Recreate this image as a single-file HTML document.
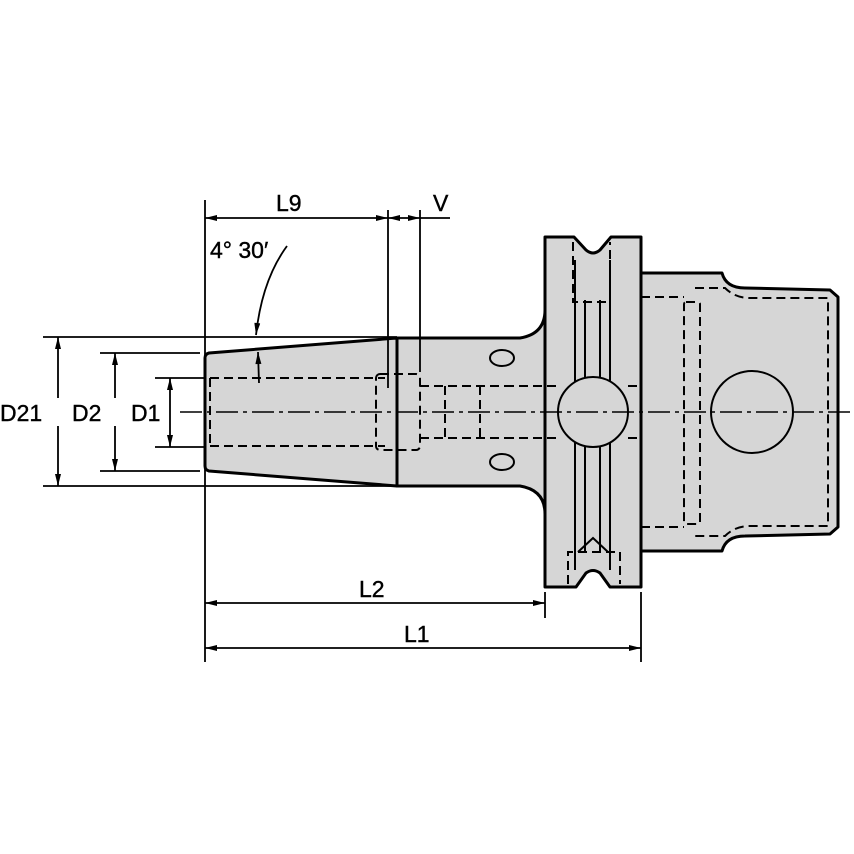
<!DOCTYPE html>
<html><head><meta charset="utf-8"><style>
html,body{margin:0;padding:0;background:#fff}
svg{display:block}
text{font-family:"Liberation Sans",sans-serif;font-size:23px;fill:#000;stroke:#000;stroke-width:0.4}
</style></head><body>
<svg width="854" height="854" viewBox="0 0 854 854" xmlns="http://www.w3.org/2000/svg">
<defs>
<marker id="a" viewBox="0 0 12 6" refX="12" refY="3" markerWidth="13" markerHeight="6" markerUnits="userSpaceOnUse" orient="auto-start-reverse">
<path d="M0,0 L12,3 L0,6 Z" fill="#000"/></marker>
</defs>
<g fill="#d6d6d6" stroke="#000" stroke-width="3" stroke-linejoin="round">
<path d="M209,353 L397,338 L397,486 L209,471 Q205,470 205,466 L205,358 Q205,354 209,353 Z"/>
<path d="M397,338 L520,338 Q545,334 545,310 L545,514 Q545,490 520,486 L397,486 Z"/>
<path d="M641,273 L722,273 Q726,288 745,288 L830,290 L838,297 L838,527 L830,534 L745,536 Q726,536 722,551 L641,551 Z"/>
<path d="M545,237 L574,237 L586,250 Q593,256 600,250 L611,237 L641,237 L641,587 L610,587 L600,573 Q593,568 586,573 L576,587 L545,587 Z"/>
</g>
<g fill="none" stroke="#000" stroke-width="2">
<line x1="575" y1="260" x2="575" y2="570"/>
<line x1="585" y1="300" x2="585" y2="380"/>
<line x1="600" y1="300" x2="600" y2="380"/>
<line x1="585" y1="444" x2="585" y2="552"/>
<line x1="600" y1="444" x2="600" y2="552"/>
<line x1="610" y1="260" x2="610" y2="570"/>
<path d="M578,552 L593,538 L608,552"/>
<circle cx="593" cy="412" r="35" fill="#d6d6d6"/>
<circle cx="752" cy="412" r="41"/>
<ellipse cx="502" cy="358" rx="12" ry="8"/>
<ellipse cx="502" cy="462" rx="12" ry="8"/>
</g>
<g fill="none" stroke="#000" stroke-width="2" stroke-dasharray="9,5">
<path d="M210,378 L385,378 M210,446 L385,446 M210,378 L210,446"/>
<rect x="376" y="374" width="44" height="76" rx="4"/>
<path d="M420,386 L505,386 M420,438 L505,438 M445,386 L445,438 M480,386 L480,438"/>
<path d="M505,386 L557,386 M505,438 L557,438 M628,386 L641,386 M628,438 L641,438"/>
<path d="M573,242 L573,302 L610,302 L610,242 M568,584 L568,552 L620,552 L620,584"/>
<path d="M641,297 L684,297 M641,527 L684,527 M695,288 L725,288 Q735,298 750,298 L828,298 L828,526 L750,526 Q735,526 725,536 L695,536"/>
<rect x="684" y="302" width="16" height="222" rx="2"/>
</g>
<line x1="180" y1="412" x2="854" y2="412" stroke="#000" stroke-width="1.5" stroke-dasharray="22,5,4,5"/>
<g stroke="#000" stroke-width="1.8" fill="none">
<line x1="205" y1="200" x2="205" y2="662"/>
<line x1="388" y1="210" x2="388" y2="388"/>
<line x1="420" y1="210" x2="420" y2="372"/>
<line x1="545" y1="592" x2="545" y2="618"/>
<line x1="641" y1="592" x2="641" y2="662"/>
<line x1="43" y1="337" x2="397" y2="337"/>
<line x1="43" y1="486" x2="397" y2="486"/>
<line x1="100" y1="353" x2="200" y2="353"/>
<line x1="100" y1="471" x2="200" y2="471"/>
<line x1="155" y1="378" x2="205" y2="378"/>
<line x1="155" y1="447" x2="205" y2="447"/>
<line x1="205" y1="218" x2="388" y2="218" marker-start="url(#a)" marker-end="url(#a)"/>
<line x1="388" y1="218" x2="420" y2="218" marker-start="url(#a)" marker-end="url(#a)"/>
<line x1="420" y1="218" x2="450" y2="218"/>
<line x1="58" y1="337" x2="58" y2="486" marker-start="url(#a)" marker-end="url(#a)"/>
<line x1="115" y1="353" x2="115" y2="471" marker-start="url(#a)" marker-end="url(#a)"/>
<line x1="170" y1="378" x2="170" y2="447" marker-start="url(#a)" marker-end="url(#a)"/>
<line x1="205" y1="603" x2="545" y2="603" marker-start="url(#a)" marker-end="url(#a)"/>
<line x1="205" y1="648" x2="641" y2="648" marker-start="url(#a)" marker-end="url(#a)"/>
<path d="M287,246 Q262,280 256,335" marker-end="url(#a)"/>
<line x1="259" y1="383" x2="258" y2="352" marker-end="url(#a)"/>
</g>
<rect x="50" y="398" width="16" height="28" fill="#fff"/>
<rect x="107" y="398" width="16" height="28" fill="#fff"/>
<text x="0" y="421">D21</text>
<text x="72" y="421">D2</text>
<text x="131" y="421">D1</text>
<text x="276" y="211">L9</text>
<text x="433" y="211">V</text>
<text x="210" y="258">4° 30′</text>
<text x="359" y="597">L2</text>
<text x="404" y="642">L1</text>
</svg>
</body></html>
